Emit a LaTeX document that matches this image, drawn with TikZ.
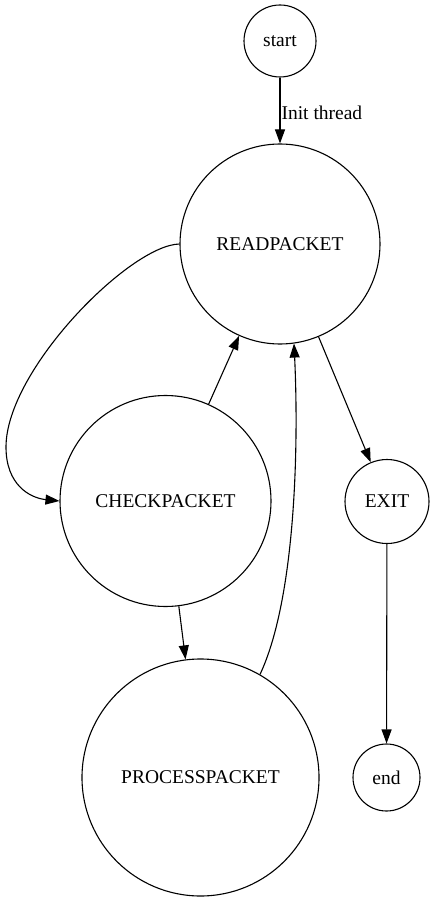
\documentclass[tikz,border=0pt]{standalone}
\usepackage{fontspec}
\setmainfont{Liberation Serif}
\usetikzlibrary{arrows.meta}
\begin{document}
\begin{tikzpicture}[x=1pt,y=-1pt,
  state/.style={circle,draw,line width=1.1pt,inner sep=0pt,font=\fontsize{19.5}{22}\selectfont},
  edge/.style={line width=1.1pt,-{Triangle[length=14pt,width=10pt]}}]
\useasboundingbox (0,0) rectangle (434,901);
\node[state,minimum size=72pt] (start) at (280,41) {start};
\node[state,minimum size=200pt] (R) at (280,244) {READPACKET};
\node[state,minimum size=211pt] (C) at (165.5,501) {CHECKPACKET};
\node[state,minimum size=237pt] (P) at (200.5,777.5) {PROCESSPACKET};
\node[state,minimum size=84pt] (E) at (387,501.5) {EXIT};
\node[state,minimum size=67pt] (end) at (386.5,777.5) {end};
\draw[edge] (start) -- node[right,inner sep=1pt,font=\fontsize{19.5}{22}\selectfont,yshift=-2pt]{Init thread} (R);
\draw[edge] (R.west) .. controls (130,245) and (6,370) .. (6,447) .. controls (6,485) and (30,498) .. (C.west);
\draw[edge] (C) -- (R);
\draw[edge] (C) -- (P);
\draw[edge] (P.60) .. controls (295,600) and (299,450) .. (R.278);
\draw[edge] (R) -- (E);
\draw[edge] (E) -- (end);
\end{tikzpicture}
\end{document}
